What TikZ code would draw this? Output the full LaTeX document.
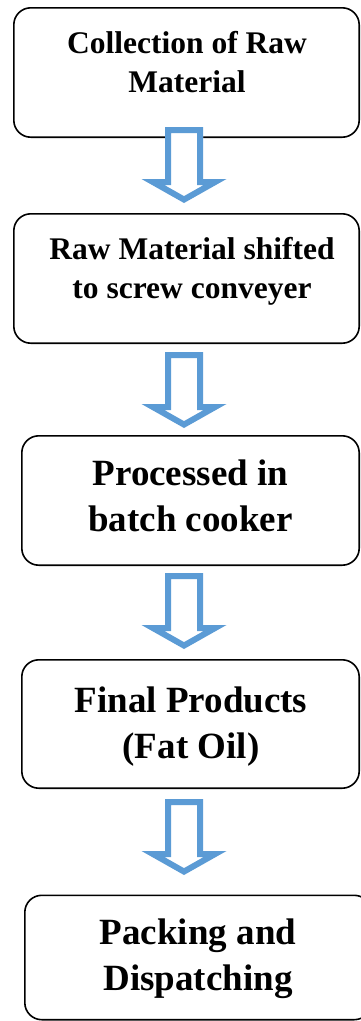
\documentclass[tikz,border=0pt]{standalone}
\usepackage{fontspec}
\setmainfont{Liberation Serif}
\usetikzlibrary{calc}
\definecolor{arrowblue}{RGB}{91,155,213}
\tikzset{
  stepbox/.style={draw=black, line width=1.6pt, rounded corners=17pt, fill=white, inner sep=0pt},
  smalltxt/.style={font=\bfseries\fontsize{31.5}{39}\selectfont, align=center, anchor=base, inner sep=0pt},
  bigtxt/.style={font=\bfseries\fontsize{37}{46}\selectfont, align=center, anchor=base, inner sep=0pt},
  arrowline/.style={draw=arrowblue, line width=12pt, line join=miter}
}
\newcommand\blockarrow[1]{%
  \begin{scope}[shift={(#1)}]
    \path[fill=white] (-19,0) -- (19,0) -- (19,52) -- (42.5,52) -- (0,76) -- (-42.5,52) -- (-19,52) -- cycle;
    \begin{scope}
      \clip (-19,0) -- (19,0) -- (19,52) -- (42.5,52) -- (0,76) -- (-42.5,52) -- (-19,52) -- cycle;
      \path[arrowline] (-19,0) -- (19,0) -- (19,52) -- (42.5,52) -- (0,76) -- (-42.5,52) -- (-19,52) -- cycle;
    \end{scope}
  \end{scope}}
\begin{document}
\begin{tikzpicture}[x=1pt,y=-1pt]
  \useasboundingbox (0,0) rectangle (361,1021);
  \clip (0,0) rectangle (361,1021);
  % boxes
  \node[stepbox, minimum width=345.4pt, minimum height=129.4pt] (b1) at (186.5,72.5) {};
  \node[stepbox, minimum width=345.4pt, minimum height=129.4pt] (b2) at (186.5,278.5) {};
  \node[stepbox, minimum width=337.4pt, minimum height=129.4pt] (b3) at (190.5,500.5) {};
  \node[stepbox, minimum width=337.4pt, minimum height=128.4pt] (b4) at (190.5,724) {};
  \node[stepbox, minimum width=346.4pt, minimum height=124.4pt] (b5) at (198,957.5) {};
  % texts (anchored at the baseline of the last line)
  \node[smalltxt] (t1) at (187,92) {Collection of Raw\\Material};
  \node[smalltxt] (t2) at (192,298) {Raw Material shifted\\to screw conveyer};
  \node[bigtxt] (t3) at (190.5,531) {Processed in\\batch cooker};
  \node[bigtxt] (t4) at (191,758) {Final Products\\(Fat Oil)};
  \node[bigtxt] (t5) at (198,990) {Packing and\\Dispatching};
  % arrow anchors (top centre of each block arrow)
  \coordinate (a1) at (184,127);
  \coordinate (a2) at (184,352);
  \coordinate (a3) at (184,573);
  \coordinate (a4) at (184,799);
  \blockarrow{a1}
  \blockarrow{a2}
  \blockarrow{a3}
  \blockarrow{a4}
\end{tikzpicture}
\end{document}
